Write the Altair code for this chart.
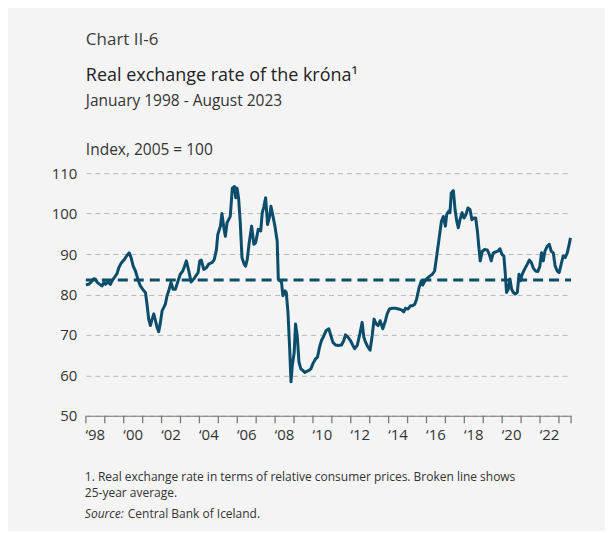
import altair as alt
import pandas as pd

# ---- data (decimal year, index 2005 = 100) ----
years = [
    1998.00, 1998.16, 1998.28, 1998.42, 1998.51, 1998.60, 1998.74, 1998.86, 1998.95,
    1999.04, 1999.16, 1999.30, 1999.39, 1999.51, 1999.65, 1999.74, 1999.86,
    2000.01, 2000.15, 2000.29, 2000.39, 2000.50, 2000.62, 2000.74, 2000.88,
    2001.03, 2001.15, 2001.24, 2001.32, 2001.41, 2001.50, 2001.59, 2001.68, 2001.76, 2001.85, 2001.94,
    2002.03, 2002.12, 2002.20, 2002.29, 2002.38, 2002.50, 2002.61, 2002.73, 2002.85, 2002.99,
    2003.12, 2003.21, 2003.31, 2003.44, 2003.56, 2003.70, 2003.84, 2003.93,
    2004.02, 2004.10, 2004.23, 2004.37, 2004.49, 2004.67, 2004.79, 2004.90, 2004.97,
    2005.11, 2005.19, 2005.28, 2005.37, 2005.46, 2005.63, 2005.74, 2005.85, 2005.92, 2005.99,
    2006.07, 2006.16, 2006.25, 2006.37, 2006.44, 2006.53, 2006.62, 2006.76, 2006.88, 2006.97,
    2007.11, 2007.24, 2007.32, 2007.41, 2007.50, 2007.60, 2007.71, 2007.78, 2007.89, 2007.99,
    2008.11, 2008.17, 2008.26, 2008.34, 2008.41, 2008.52, 2008.59, 2008.68, 2008.77, 2008.84, 2008.91,
    2009.01, 2009.08, 2009.17, 2009.26, 2009.36, 2009.47, 2009.57, 2009.68, 2009.79, 2009.89,
    2010.00, 2010.14, 2010.24, 2010.35, 2010.45, 2010.58, 2010.70, 2010.84, 2010.95,
    2011.05, 2011.19, 2011.33, 2011.51, 2011.63, 2011.72, 2011.86, 2011.98,
    2012.11, 2012.21, 2012.34, 2012.46, 2012.60, 2012.69, 2012.78, 2012.88,
    2013.02, 2013.13, 2013.23, 2013.34, 2013.44, 2013.55, 2013.69, 2013.83, 2013.92,
    2014.04, 2014.18, 2014.36, 2014.53, 2014.68, 2014.80, 2014.89,
    2015.03, 2015.15, 2015.26, 2015.38, 2015.48, 2015.61, 2015.73, 2015.80, 2015.87,
    2016.01, 2016.19, 2016.31, 2016.43, 2016.54, 2016.66, 2016.79, 2016.89,
    2017.00, 2017.07, 2017.17, 2017.24, 2017.31, 2017.42, 2017.51, 2017.60, 2017.68, 2017.77, 2017.88, 2017.98,
    2018.09, 2018.19, 2018.30, 2018.40, 2018.51, 2018.60, 2018.69, 2018.77, 2018.84, 2018.95,
    2019.07, 2019.21, 2019.32, 2019.42, 2019.53, 2019.65, 2019.78, 2019.88, 2019.99,
    2020.09, 2020.16, 2020.23, 2020.32, 2020.41, 2020.50, 2020.59, 2020.69, 2020.80, 2020.89, 2020.97,
    2021.06, 2021.18, 2021.33, 2021.43, 2021.54, 2021.64, 2021.76, 2021.89, 2021.99,
    2022.08, 2022.17, 2022.26, 2022.38, 2022.49, 2022.59, 2022.70, 2022.80, 2022.91,
    2023.01, 2023.12, 2023.22, 2023.33, 2023.44, 2023.54, 2023.61,
]
values = [
    82.4, 82.5, 83.1, 83.9, 83.8, 83.0, 82.5, 82.1, 83.0,
    82.5, 83.1, 82.5, 83.4, 84.2, 85.2, 86.6, 87.7,
    88.5, 89.5, 90.3, 89.1, 87.0, 85.8, 83.9, 82.1,
    81.1, 80.5, 77.2, 73.9, 72.3, 73.9, 75.2, 73.5, 71.9, 70.8, 73.1,
    76.0, 76.8, 77.6, 79.7, 80.9, 83.0, 81.3, 81.3, 83.0, 85.0,
    85.8, 86.9, 88.3, 85.8, 83.1, 83.8, 84.8, 85.4,
    88.3, 88.5, 86.2, 86.6, 87.5, 87.9, 88.7, 91.1, 94.8,
    96.9, 100.0, 96.9, 94.4, 97.7, 99.3, 106.3, 106.7, 103.9, 106.3,
    103.9, 97.7, 89.1, 87.5, 87.0, 88.7, 92.4, 96.9, 92.4, 92.8,
    96.1, 95.7, 100.2, 101.8, 103.9, 97.3, 99.3, 101.8, 99.3, 96.9,
    93.2, 83.8, 83.4, 83.0, 79.7, 80.9, 80.5, 75.6, 66.6, 58.4, 62.5,
    65.7, 72.7, 69.8, 63.3, 61.6, 61.2, 60.7, 61.0, 61.2, 61.6,
    62.9, 64.1, 64.5, 67.0, 68.6, 69.8, 71.1, 71.5, 69.8,
    68.2, 67.5, 67.4, 67.5, 68.6, 70.0, 69.4, 68.6,
    67.4, 66.6, 67.4, 69.8, 73.1, 69.4, 68.2, 67.2,
    66.2, 69.8, 73.9, 72.7, 72.3, 73.5, 71.5, 73.5, 75.2,
    76.4, 76.6, 76.6, 76.4, 76.2, 75.7, 76.6,
    76.4, 77.2, 77.2, 77.6, 78.9, 81.7, 83.4, 82.3, 83.0,
    83.9, 84.6, 85.0, 85.8, 89.5, 93.6, 98.1, 99.3,
    96.9, 99.8, 100.6, 100.2, 105.1, 105.7, 101.0, 98.1, 96.5, 98.5, 100.2, 98.9,
    99.8, 101.4, 101.0, 98.5, 98.9, 98.9, 95.7, 91.6, 88.3, 90.7,
    91.1, 91.0, 89.9, 88.3, 90.3, 90.5, 90.7, 91.3, 89.9,
    89.5, 85.4, 80.5, 81.3, 83.8, 81.3, 80.5, 80.1, 80.5, 85.0, 83.4,
    85.0, 86.2, 87.5, 88.5, 87.9, 86.6, 85.8, 85.7, 87.0,
    90.3, 88.3, 90.7, 91.9, 92.4, 90.7, 90.3, 87.0, 85.8,
    85.4, 87.5, 89.5, 89.1, 90.3, 92.4, 94.0,
]
average_25y = 83.6
x_start, x_end = 1998, 2023.64
x_ticks = list(range(1998, 2024)) + [x_end]
y_ticks = [50, 60, 70, 80, 90, 100, 110]

# x tick labels: every second year, centred in the middle of the year
label_years = list(range(1998, 2023, 2))
label_texts = ["\u2018" + str(y)[2:] for y in label_years]

header_label = "Chart II-6"
title_text = "Real exchange rate of the króna¹"
subtitle_text = "January 1998 - August 2023"
unit_text = "Index, 2005 = 100"
note_line1 = "1. Real exchange rate in terms of relative consumer prices. Broken line shows"
note_line2 = "25-year average."
source_label = "Source:"
source_text = "Central Bank of Iceland."

# ---- styling ----
W, H = 486, 243
FONT = "Open Sans"
LINE = "#0b4d6b"
TXT = "#333333"
AXIS_GREY = "#7a7a7a"
BG = "#f4f4f4"

df = pd.DataFrame({"year": years, "value": values})
avg_df = pd.DataFrame({"year": [x_start, x_end], "value": [average_25y, average_25y]})
lab_df = pd.DataFrame({"pos": [y + 0.5 for y in label_years], "lab": label_texts})
tick_df = pd.DataFrame({"tick": x_ticks})

x_scale = alt.Scale(domain=[x_start, x_end], nice=False, zero=False)
y_scale = alt.Scale(domain=[50, 110], nice=False, zero=False)

x_axis = alt.Axis(
    values=x_ticks, labels=False, grid=False, ticks=False,
    domainColor=AXIS_GREY, domainWidth=1, title=None,
)
y_axis = alt.Axis(
    values=y_ticks, grid=True, gridDash=[5, 4], gridColor="#b8b8b8", gridWidth=1,
    domain=False, ticks=False, labelPadding=9, labelFontSize=15, labelColor=TXT,
    title=None, labelFont=FONT,
)

avg_line = alt.Chart(avg_df).mark_line(color=LINE, strokeWidth=3, strokeDash=[10, 6]).encode(
    x=alt.X("year:Q", scale=x_scale, axis=x_axis),
    y=alt.Y("value:Q", scale=y_scale, axis=y_axis),
)

series = alt.Chart(df).mark_line(color=LINE, strokeWidth=3, strokeJoin="round").encode(
    x=alt.X("year:Q", scale=x_scale, axis=x_axis),
    y=alt.Y("value:Q", scale=y_scale, axis=y_axis),
)

# year tick marks below the axis line
x_tick_marks = alt.Chart(tick_df).mark_rule(color=AXIS_GREY, strokeWidth=1.3).encode(
    x=alt.X("tick:Q", scale=x_scale, axis=x_axis),
    y=alt.value(H),
    y2=alt.value(H + 7.5),
)

x_labels = alt.Chart(lab_df).mark_text(
    align="center", baseline="alphabetic", font=FONT, fontSize=15, color=TXT,
).encode(
    x=alt.X("pos:Q", scale=x_scale, axis=x_axis),
    y=alt.value(H + 24),
    text="lab:N",
)


def label(text, x, y, size, italic=False, color=TXT):
    return alt.Chart(pd.DataFrame({"t": [text]})).mark_text(
        align="left", baseline="alphabetic", font=FONT, fontSize=size,
        fontStyle="italic" if italic else "normal", color=color,
    ).encode(x=alt.value(x), y=alt.value(y), text="t:N")


texts = [
    label(header_label, 0, -128, 17, color="#3a3a3a"),
    label(title_text, 0, -92, 18, color="#222222"),
    label(subtitle_text, 0, -67, 15.5),
    label(unit_text, 0, -18, 15.5),
    label(note_line1, -1, 308, 12),
    label(note_line2, -1, 324, 12),
    label(source_label, -1, 345, 12, italic=True),
    label(source_text, 42, 345, 12),
]

chart = alt.layer(avg_line, series, x_tick_marks, x_labels, *texts).properties(
    width=W, height=H,
    autosize=alt.AutoSizeParams(type="none"),
    padding={"left": 78, "top": 165, "right": 34, "bottom": 115},
    background=BG,
).configure_view(stroke=None)

chart.save("out.html", embed_options={"renderer": "svg", "actions": False})
